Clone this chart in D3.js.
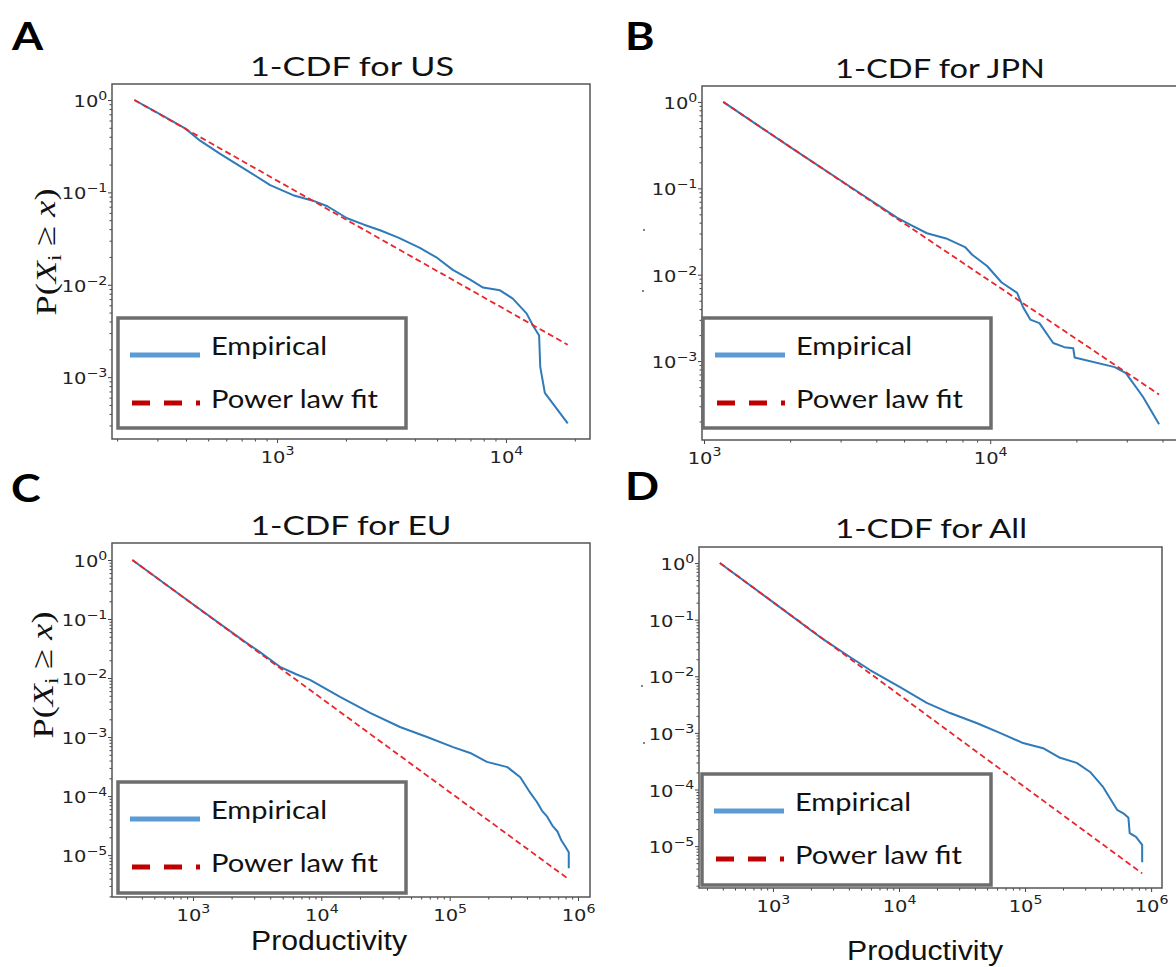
<!DOCTYPE html>
<meta charset="utf-8">
<style>
  body { margin: 0; background: #fff; }
  svg { display: block; }
</style>
<svg width="1176" height="967"></svg>
<script src="https://cdn.jsdelivr.net/npm/d3@7/dist/d3.min.js"></script>
<script>
// ---- values ----
// US
var usX = [238, 316, 398, 461, 562, 746, 933, 1175, 1435, 1660, 2023, 2399, 2818, 3388, 4207, 5012, 5861, 6918, 7943, 9419, 10715, 12303, 13183, 13964, 14125, 14791, 18621];
var usY = [1, 0.676, 0.49, 0.363, 0.263, 0.17, 0.12, 0.0933, 0.0813, 0.0708, 0.0525, 0.0447, 0.0389, 0.0324, 0.0251, 0.0195, 0.0145, 0.0115, 0.00933, 0.00871, 0.00708, 0.0049, 0.00355, 0.00282, 0.00129, 0.000676, 0.000316];
var usFitX = [238, 18621], usFitY = [1, 0.00224];

// JPN
var jpnX = [1167, 1995, 3162, 4721, 5248, 6012, 7015, 8166, 8650, 9750, 10965, 12417, 13002, 13804, 14859, 16596, 18155, 19498, 19724, 27227, 29785, 34119, 38905];
var jpnY = [1, 0.302, 0.11, 0.0457, 0.038, 0.0302, 0.0263, 0.0209, 0.017, 0.0126, 0.00813, 0.00617, 0.00427, 0.00302, 0.00275, 0.00162, 0.00145, 0.00141, 0.0011, 0.000851, 0.000724, 0.000389, 0.000186];
var jpnFitX = [1167, 38905], jpnFitY = [1, 0.00041];

// EU
var euX = [337, 1000, 2512, 3327, 4764, 6310, 8166, 13996, 23988, 41020, 66680, 106400, 144500, 195000, 281800, 354800, 426600, 478600, 524800, 575400, 631000, 691800, 741300, 794300, 847200, 847200];
var euY = [1, 0.178, 0.0417, 0.0275, 0.0155, 0.0117, 0.00933, 0.00479, 0.00257, 0.00148, 0.001, 0.000676, 0.000537, 0.00038, 0.000309, 0.000209, 0.000112, 7.94e-5, 5.62e-5, 4.47e-5, 3.16e-5, 2.51e-5, 1.78e-5, 1.41e-5, 1.12e-5, 6.0e-6];
var euFitX = [337, 847200], euFitY = [1, 3.9e-6];

// All
var allX = [379, 1000, 2512, 4083, 5888, 10190, 16600, 25410, 41690, 63100, 96400, 139000, 189700, 257000, 328100, 416900, 537000, 602600, 660700, 676100, 758600, 849200, 849200];
var allY = [1, 0.204, 0.0447, 0.0219, 0.0129, 0.00646, 0.00339, 0.00224, 0.00148, 0.001, 0.000661, 0.000537, 0.000363, 0.000295, 0.000204, 0.00011, 4.37e-5, 3.8e-5, 3.16e-5, 1.7e-5, 1.45e-5, 1.05e-5, 5.2e-6];
var allFitX = [379, 849200], allFitY = [1, 3.3e-6];

var legendLabels = ["Empirical", "Power law fit"];

// ---- layout ----
var panels = [
  {letter: "A", title: "1-CDF for US", xs: usX, ys: usY, fx: usFitX, fy: usFitY,
   x0: 112, x1: 590, y0: 84, y1: 439, xDom: [190, 23300], yDom: [2.14e-4, 1.49],
   lx: 12, ly: 50, tx: 352, ty: 76, tw: 204, leg: [118, 318, 288, 110], yLab: [45, 252]},
  {letter: "B", title: "1-CDF for JPN", xs: jpnX, ys: jpnY, fx: jpnFitX, fy: jpnFitY,
   x0: 702, x1: 1178, y0: 86, y1: 440, xDom: [984, 45300], yDom: [1.22e-4, 1.53],
   lx: 625, ly: 50, tx: 940, ty: 78, tw: 210, leg: [703, 318, 288, 110], dots: [[644, 230], [643, 291]]},
  {letter: "C", title: "1-CDF for EU", xs: euX, ys: euY, fx: euFitX, fy: euFitY,
   x0: 112, x1: 590, y0: 543, y1: 897, xDom: [234, 1.24e6], yDom: [1.95e-6, 1.94],
   lx: 11, ly: 502, tx: 351, ty: 535, tw: 201, leg: [118, 782, 288, 111], yLab: [42, 675], xLab: [329, 950]},
  {letter: "D", title: "1-CDF for All", xs: allX, ys: allY, fx: allFitX, fy: allFitY,
   x0: 699, x1: 1162, y0: 547, y1: 888, xDom: [259, 1.22e6], yDom: [1.82e-6, 1.92],
   lx: 625, ly: 500, tx: 931, ty: 538, tw: 192, leg: [702, 774, 289, 111], xLab: [925, 960], dots: [[642, 686], [644, 743]]}
];

var svg = d3.select("svg");
svg.append("rect").attr("width", 1176).attr("height", 967).attr("fill", "#fff");

function majors(dom) { // powers of ten inside the domain
  var out = [];
  for (var e = Math.ceil(Math.log10(dom[0]) - 1e-9); e <= Math.floor(Math.log10(dom[1]) + 1e-9); e++) out.push(Math.pow(10, e));
  return out;
}
function minors(dom) {
  var out = [];
  for (var e = Math.floor(Math.log10(dom[0])); e <= Math.ceil(Math.log10(dom[1])); e++)
    for (var k = 2; k <= 9; k++) { var v = k * Math.pow(10, e); if (v >= dom[0] && v <= dom[1]) out.push(v); }
  return out;
}
function expLabel(sel) {
  sel.each(function(d) {
    var t = d3.select(this), e = Math.round(Math.log10(d));
    t.text(null).attr("transform", "scale(1.18,1)");
    t.append("tspan").text("10");
    t.append("tspan").attr("dy", "-0.6em").attr("font-size", "12px").text(e < 0 ? "\u2212" + (-e) : e);
  });
}
function styleAxis(g) {
  g.select(".domain").remove();
  g.attr("font-family", "'DejaVu Sans', sans-serif").attr("font-size", 16.5);
  g.selectAll(".tick line").attr("stroke", "#444");
  g.selectAll(".tick text").attr("fill", "#222");
}

panels.forEach(function(p) {
  var x = d3.scaleLog().domain(p.xDom).range([p.x0, p.x1]);
  var y = d3.scaleLog().domain(p.yDom).range([p.y1, p.y0]);
  var g = svg.append("g");

  // minor ticks
  g.append("g").attr("transform", "translate(0," + p.y1 + ")")
    .call(d3.axisBottom(x).tickValues(minors(p.xDom)).tickSize(2.5).tickFormat("")).call(styleAxis);
  g.append("g").attr("transform", "translate(" + p.x0 + ",0)")
    .call(d3.axisLeft(y).tickValues(minors(p.yDom)).tickSize(2.5).tickFormat("")).call(styleAxis);

  // major ticks
  var xa = g.append("g").attr("transform", "translate(0," + p.y1 + ")")
    .call(d3.axisBottom(x).tickValues(majors(p.xDom)).tickSize(4).tickPadding(4).tickFormat(function() { return ""; }))
    .call(styleAxis);
  xa.selectAll(".tick text").attr("dy", "0.95em").call(expLabel);
  var ya = g.append("g").attr("transform", "translate(" + p.x0 + ",0)")
    .call(d3.axisLeft(y).tickValues(majors(p.yDom)).tickSize(4).tickPadding(0).tickFormat(function() { return ""; }))
    .call(styleAxis);
  ya.selectAll(".tick text").attr("dy", "0.4em").call(expLabel);

  // frame
  g.append("rect").attr("x", p.x0).attr("y", p.y0).attr("width", p.x1 - p.x0).attr("height", p.y1 - p.y0)
    .attr("fill", "none").attr("stroke", "#555").attr("stroke-width", 1.5);

  var line = d3.line().x(function(d) { return x(d[0]); }).y(function(d) { return y(d[1]); });

  g.append("path").datum(d3.zip(p.xs, p.ys)).attr("d", line)
    .attr("fill", "none").attr("stroke", "#2f7ab9").attr("stroke-width", 2).attr("stroke-linejoin", "round");
  g.append("path").datum(d3.zip(p.fx, p.fy)).attr("d", line)
    .attr("fill", "none").attr("stroke", "#e8262b").attr("stroke-width", 1.8).attr("stroke-dasharray", "6,3.5");

  // legend
  var L = p.leg;
  var lg = g.append("g").attr("transform", "translate(" + L[0] + "," + L[1] + ")");
  lg.append("rect").attr("width", L[2]).attr("height", L[3]).attr("fill", "#fff")
    .attr("stroke", "#6d6d6d").attr("stroke-width", 3.5);
  lg.append("line").attr("x1", 12).attr("x2", 82).attr("y1", 37).attr("y2", 37)
    .attr("stroke", "#5b9bd5").attr("stroke-width", 5);
  lg.append("line").attr("x1", 14).attr("x2", 86).attr("y1", 85).attr("y2", 85)
    .attr("stroke", "#c00000").attr("stroke-width", 5).attr("stroke-dasharray", "18,14,18,14,4");
  lg.selectAll("text.leg").data(legendLabels).enter().append("text").attr("class", "leg")
    .attr("x", 93).attr("y", function(d, i) { return i ? 90 : 37; })
    .attr("font-family", "Lato, sans-serif").attr("font-size", 25.5).attr("fill", "#111")
    .attr("textLength", function(d, i) { return i ? 167 : 116; }).attr("lengthAdjust", "spacingAndGlyphs")
    .text(function(d) { return d; });

  // title and letter
  svg.append("text").attr("x", p.tx).attr("y", p.ty).attr("text-anchor", "middle")
    .attr("font-family", "Lato, sans-serif").attr("font-size", 27.5).attr("fill", "#111")
    .attr("textLength", p.tw).attr("lengthAdjust", "spacingAndGlyphs").text(p.title);
  svg.append("text").attr("transform", "translate(" + p.lx + "," + p.ly + ") scale(1.15,1)")
    .attr("font-family", "Lato, sans-serif").attr("font-weight", "bold").attr("font-size", 39).attr("fill", "#000").text(p.letter);

  if (p.yLab) {
    var t = svg.append("text").attr("transform", "translate(" + p.yLab[0] + "," + p.yLab[1] + ") rotate(-90)")
      .attr("text-anchor", "middle").attr("dy", "0.35em")
      .attr("font-family", "'Liberation Serif', serif").attr("font-size", 30).attr("fill", "#111")
      .attr("textLength", 127).attr("lengthAdjust", "spacingAndGlyphs");
    t.append("tspan").text("P(");
    t.append("tspan").attr("font-style", "italic").text("X");
    t.append("tspan").attr("font-size", 19).attr("dy", "0.3em").text("i");
    t.append("tspan").attr("dy", "-0.2em").text(" \u2265 ");
    t.append("tspan").attr("font-style", "italic").text("x");
    t.append("tspan").text(")");
  }
  if (p.xLab) {
    svg.append("text").attr("x", p.xLab[0]).attr("y", p.xLab[1]).attr("text-anchor", "middle")
      .attr("font-family", "'Liberation Sans', Arial, sans-serif").attr("font-size", 27).attr("fill", "#111")
      .attr("textLength", 156).attr("lengthAdjust", "spacingAndGlyphs")
      .text("Productivity");
  }
  (p.dots || []).forEach(function(d) {
    svg.append("circle").attr("cx", d[0]).attr("cy", d[1]).attr("r", 1.1).attr("fill", "#666");
  });
});
</script>
